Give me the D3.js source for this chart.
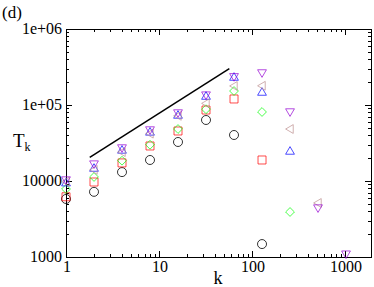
<!DOCTYPE html>
<html>
<head>
<meta charset="utf-8">
<script src="https://cdn.jsdelivr.net/npm/d3@7"></script>
<style>
  body { margin: 0; background: #fff; }
  svg text { font-family: "Liberation Serif", "Times New Roman", serif; fill: #000; }
</style>
</head>
<body>
<svg id="chart" width="374" height="287"></svg>
<script>
// ----------------------
// data
// ----------------------
const kValues = [1, 2, 4, 8, 16, 32, 64, 128, 256, 512, 1024];

const circleVals  = [5800, 7200, 13100, 18900, 32600, 63500, 40300, 1480, null, null, null];
const squareVals  = [6200, 9700, 17300, 28900, 45500, 85900, 120000, 18900, null, null, null];
const diamondVals = [7850, 11300, 18500, 30000, 48300, 88000, 152800, 80900, 3910, null, null];
const upVals      = [9500, 14800, 25600, 44200, 73800, 131000, 233000, 148000, 24800, null, null];
const leftVals    = [9800, 14000, 24000, 42000, 72000, 105000, 178000, 179000, 48300, 5140, null];
const downVals    = [10300, 16700, 27200, 46900, 78500, 135000, 235000, 264000, 80900, 4410, 1090];

// reference line
const lineK = [1.8, 57];
const lineT = [20500, 300000];

const xTicks = [1, 10, 100, 1000];
const xTickLabels = ["1", "10", "100", "1000"];
const yTicks = [1000, 10000, 100000, 1000000];
const yTickLabels = ["1000", "10000", "1e+05", "1e+06"];

const series = [
  { name: "circle",  vals: circleVals,  color: "#000000" },
  { name: "square",  vals: squareVals,  color: "#ff0000" },
  { name: "diamond", vals: diamondVals, color: "#00ff00" },
  { name: "up",      vals: upVals,      color: "#0000ff" },
  { name: "left",    vals: leftVals,    color: "#bc8f8f" },
  { name: "down",    vals: downVals,    color: "#9400d3" }
];

// ----------------------
// layout
// ----------------------
const svg = d3.select("#chart");
const x = d3.scaleLog().domain([1, 1900]).range([66, 371]);
const y = d3.scaleLog().domain([1000, 1000000]).range([257, 29]);

const plotL = x.range()[0], plotR = x.range()[1];
const plotT = y.range()[1], plotB = y.range()[0];

// minor tick values
function minors(lo, hi) {
  const out = [];
  for (let d = lo; d < hi; d *= 10) {
    for (let m = 2; m <= 9; m++) {
      if (d * m <= hi) out.push(d * m);
    }
  }
  return out;
}
const xMinor = minors(1, 1900);
const yMinor = minors(1000, 1000000);

const axisG = svg.append("g").attr("stroke", "#000").attr("stroke-width", 1);

// frame
axisG.append("rect")
  .attr("x", plotL + 0.5).attr("y", plotT + 0.5)
  .attr("width", plotR - plotL).attr("height", plotB - plotT)
  .attr("fill", "none");

const majorLen = 6, minorLen = 3;

// x ticks (bottom + top, inward)
xTicks.forEach(v => {
  const px = Math.round(x(v)) + 0.5;
  axisG.append("line").attr("x1", px).attr("x2", px).attr("y1", plotB).attr("y2", plotB - majorLen);
  axisG.append("line").attr("x1", px).attr("x2", px).attr("y1", plotT).attr("y2", plotT + majorLen);
});
xMinor.forEach(v => {
  const px = Math.round(x(v)) + 0.5;
  axisG.append("line").attr("x1", px).attr("x2", px).attr("y1", plotB).attr("y2", plotB - minorLen);
  axisG.append("line").attr("x1", px).attr("x2", px).attr("y1", plotT).attr("y2", plotT + minorLen);
});

// y ticks (left + right, inward)
yTicks.forEach(v => {
  const py = Math.round(y(v)) + 0.5;
  axisG.append("line").attr("y1", py).attr("y2", py).attr("x1", plotL).attr("x2", plotL + majorLen);
  axisG.append("line").attr("y1", py).attr("y2", py).attr("x1", plotR).attr("x2", plotR - majorLen);
});
yMinor.forEach(v => {
  const py = Math.round(y(v)) + 0.5;
  axisG.append("line").attr("y1", py).attr("y2", py).attr("x1", plotL).attr("x2", plotL + minorLen);
  axisG.append("line").attr("y1", py).attr("y2", py).attr("x1", plotR).attr("x2", plotR - minorLen);
});

// tick labels
svg.selectAll("text.xlab")
  .data(xTicks)
  .enter().append("text")
  .attr("class", "xlab")
  .attr("x", d => x(d) + 1)
  .attr("y", plotB + 15)
  .attr("text-anchor", "middle")
  .attr("font-size", 16)
  .text((d, i) => xTickLabels[i]);

svg.selectAll("text.ylab")
  .data(yTicks)
  .enter().append("text")
  .attr("class", "ylab")
  .attr("x", plotL - 4)
  .attr("y", d => y(d) + 5)
  .attr("text-anchor", "end")
  .attr("font-size", 16)
  .text((d, i) => yTickLabels[i]);

// axis titles
svg.append("text")
  .attr("x", 218).attr("y", 284)
  .attr("text-anchor", "middle")
  .attr("font-size", 18)
  .text("k");

const tk = svg.append("text")
  .attr("x", 13).attr("y", 147)
  .attr("font-size", 19);
tk.append("tspan").text("T");
tk.append("tspan").attr("font-size", 12).attr("dy", 4).text("k");

svg.append("text")
  .attr("x", 2).attr("y", 18)
  .attr("font-size", 17)
  .text("(d)");

// reference line
svg.append("line")
  .attr("x1", x(lineK[0])).attr("y1", y(lineT[0]))
  .attr("x2", x(lineK[1])).attr("y2", y(lineT[1]))
  .attr("stroke", "#000")
  .attr("stroke-width", 1.5);

// ----------------------
// markers
// ----------------------
function shapePath(name, s) {
  switch (name) {
    case "square":
      return `M${-s},${-s}L${s},${-s}L${s},${s}L${-s},${s}Z`;
    case "diamond":
      return `M0,${-s * 1.1}L${s * 1.1},0L0,${s * 1.1}L${-s * 1.1},0Z`;
    case "up":
      return `M0,${-s * 1.1}L${s * 1.1},${s * 0.8}L${-s * 1.1},${s * 0.8}Z`;
    case "down":
      return `M0,${s * 1.1}L${s * 1.1},${-s * 0.8}L${-s * 1.1},${-s * 0.8}Z`;
    case "left":
      return `M${-s * 1.1},0L${s * 0.8},${-s * 1.1}L${s * 0.8},${s * 1.1}Z`;
  }
  return "";
}

series.forEach(s => {
  const pts = kValues
    .map((k, i) => ({ k: k, v: s.vals[i] }))
    .filter(d => d.v !== null);

  const g = svg.append("g").attr("class", "series-" + s.name);

  if (s.name === "circle") {
    g.selectAll("circle")
      .data(pts)
      .enter().append("circle")
      .attr("cx", d => x(d.k))
      .attr("cy", d => y(d.v))
      .attr("r", 4.5)
      .attr("fill", "none")
      .attr("stroke", s.color)
      .attr("stroke-opacity", 0.8)
      .attr("stroke-width", 1);
  } else {
    g.selectAll("path")
      .data(pts)
      .enter().append("path")
      .attr("transform", d => `translate(${x(d.k)},${y(d.v)})`)
      .attr("d", shapePath(s.name, 4))
      .attr("fill", "none")
      .attr("stroke", s.color)
      .attr("stroke-opacity", 0.7)
      .attr("stroke-width", 1);
  }
});
</script>
</body>
</html>
